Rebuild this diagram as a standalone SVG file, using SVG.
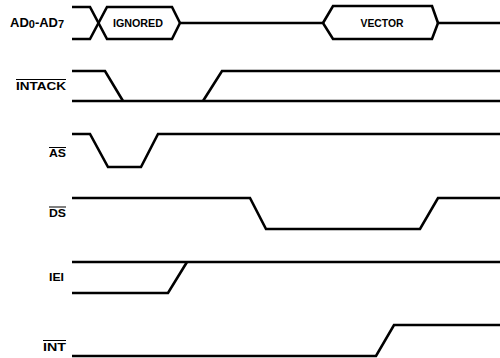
<svg xmlns="http://www.w3.org/2000/svg" width="500" height="358" viewBox="0 0 500 358">
<style>
.w{fill:none;stroke:#000;stroke-width:2.6;stroke-linejoin:miter;stroke-linecap:butt}
.lbl{font-family:"Liberation Sans",Arial,sans-serif;font-weight:bold;font-size:10.5px;fill:#000}
.ob{stroke:#000;stroke-width:1}
</style>
<rect width="500" height="358" fill="#fff"/>
<g id="labels">
<g id="label-ad"><text class="lbl" x="10" y="27" style="font-size:13px">AD<tspan style="font-size:11px" dy="1">0</tspan><tspan dy="-1">-AD</tspan><tspan style="font-size:11px" dy="1">7</tspan></text></g>
<g id="label-intack"><text class="lbl" x="16" y="90" style="font-size:11px" textLength="50" lengthAdjust="spacingAndGlyphs">INTACK</text><line class="ob" x1="16" y1="79.5" x2="66" y2="79.5"/></g>
<g id="label-as"><text class="lbl" x="49" y="157" textLength="17" lengthAdjust="spacingAndGlyphs">AS</text><line class="ob" x1="49" y1="147.5" x2="66" y2="147.5"/></g>
<g id="label-ds"><text class="lbl" x="49" y="217" textLength="17" lengthAdjust="spacingAndGlyphs">DS</text><line class="ob" x1="49" y1="207" x2="66" y2="207"/></g>
<g id="label-iei"><text class="lbl" x="49" y="281" textLength="15" lengthAdjust="spacingAndGlyphs">IEI</text></g>
<g id="label-int"><text class="lbl" x="43" y="351" textLength="23" lengthAdjust="spacingAndGlyphs">INT</text><line class="ob" x1="43" y1="340.5" x2="66" y2="340.5"/></g>
</g>
<g id="waveforms">
<g id="ad">
<polyline class="w" points="72,7 90,7 107,39 172,39 180,23 323,23 333,39 432,39 438,23 500,23"/>
<polyline class="w" points="72,39 90,39 107,7 172,7 180,23"/>
<polyline class="w" points="323,23 333,6 432,6 438,23"/>
<text class="lbl" x="138" y="27" text-anchor="middle" textLength="50" lengthAdjust="spacingAndGlyphs">IGNORED</text>
<text class="lbl" x="382" y="27" text-anchor="middle" textLength="43" lengthAdjust="spacingAndGlyphs">VECTOR</text>
</g>
<g id="intack">
<polyline class="w" points="72,71 105,71 123,101"/>
<polyline class="w" points="72,101 500,101"/>
<polyline class="w" points="203,101 222,71 500,71"/>
</g>
<g id="as">
<polyline class="w" points="72,134 90,134 108,167 141,167 158,134 500,134"/>
</g>
<g id="ds">
<polyline class="w" points="72,198 250,198 266,229 420,229 438,198 500,198"/>
</g>
<g id="iei">
<polyline class="w" points="72,262 500,262"/>
<polyline class="w" points="72,293 168,293 187,262"/>
</g>
<g id="int">
<polyline class="w" points="72,356 376,356 394,325 500,325"/>
</g>
</g>
</svg>
